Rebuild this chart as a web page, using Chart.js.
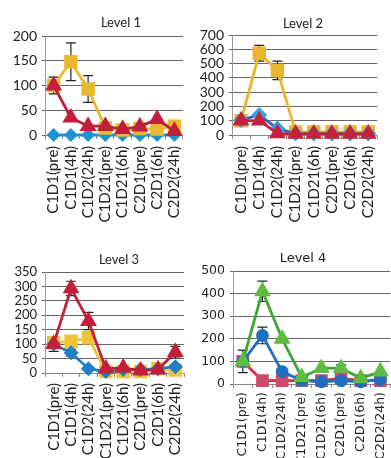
<!DOCTYPE html>
<html lang="en">
<head>
<meta charset="UTF-8" />
<title>Level 1-4</title>
<script src="https://cdn.jsdelivr.net/npm/chart.js"></script>
<style>
  html, body { margin: 0; padding: 0; background: #fff; overflow: hidden; width: 391px; height: 458px; }
  canvas { position: absolute; }
</style>
</head>
<body>
<canvas id="level1" width="197" height="225" style="left:0;top:0"></canvas>
<canvas id="level2" width="201" height="225" style="left:190px;top:0"></canvas>
<canvas id="level3" width="197" height="218" style="left:0;top:240px"></canvas>
<canvas id="level4" width="210" height="218" style="left:190px;top:240px"></canvas>

<script>
// categories
const labels = ['C1D1(pre)', 'C1D1(4h)', 'C1D2(24h)', 'C1D21(pre)', 'C1D21(6h)', 'C2D1(pre)', 'C2D1(6h)', 'C2D2(24h)'];

// Level 1
const l1Red = [100, 35, 18, 18, 12, 17, 32, 8];
const l1RedErr = [17, 0, 0, 0, 0, 0, 0, 0];
const l1Yellow = [100, 148, 93, 14, 10, 13, 12, 18];
const l1YellowErr = [0, 38, 27, 0, 0, 0, 0, 0];
const l1Blue = [0, 0, 0, 0, 0, 0, 0, 0];

// Level 2
const l2Red = [100, 100, 12, 8, 8, 8, 8, 8];
const l2Yellow = [100, 572, 452, 22, 22, 22, 22, 22];
const l2YellowErr = [0, 55, 65, 0, 0, 0, 0, 0];
const l2Blue = [105, 140, 45, 10, 10, 10, 10, 10];
const l2BlueErr = [25, 0, 0, 0, 0, 0, 0, 0];

// Level 3
const l3Red = [100, 293, 180, 15, 18, 8, 12, 72];
const l3RedErr = [25, 25, 30, 0, 0, 0, 0, 20];
const l3Yellow = [105, 110, 122, 5, 5, 5, 15, 10];
const l3Blue = [100, 70, 15, 5, 12, 12, 15, 22];
const l3BlueErr = [0, 12, 0, 0, 0, 0, 0, 0];

// Level 4
const l4Green = [100, 410, 200, 30, 70, 70, 25, 55];
const l4GreenErr = [50, 45, 0, 0, 0, 15, 0, 0];
const l4Blue = [100, 215, 55, 15, 10, 15, 10, 20];
const l4BlueErr = [0, 37, 0, 0, 0, 0, 0, 0];
const l4Red = [100, 15, 15, 15, 15, 25, 15, 15];

// error bars drawn from each dataset's "errors" array
const errorBars = {
  id: 'errorBars',
  beforeDatasetsDraw(chart) {
    const ctx = chart.ctx;
    const y = chart.scales.y;
    ctx.save();
    ctx.strokeStyle = '#222';
    ctx.lineWidth = 1.2;
    chart.data.datasets.forEach((ds, i) => {
      if (!ds.errors) return;
      const meta = chart.getDatasetMeta(i);
      ds.errors.forEach((e, j) => {
        if (!e) return;
        const x = meta.data[j].x;
        const top = y.getPixelForValue(ds.data[j] + e);
        const bot = y.getPixelForValue(ds.data[j] - e);
        ctx.beginPath();
        ctx.moveTo(x, top); ctx.lineTo(x, bot);
        ctx.moveTo(x - 5, top); ctx.lineTo(x + 5, top);
        ctx.moveTo(x - 5, bot); ctx.lineTo(x + 5, bot);
        ctx.stroke();
      });
    });
    ctx.restore();
  }
};

// small title placed where the scan has it
const panelTitle = {
  id: 'panelTitle',
  afterDraw(chart, args, opts) {
    const ctx = chart.ctx;
    ctx.save();
    ctx.font = opts.font;
    ctx.fillStyle = '#222';
    ctx.textAlign = 'center';
    ctx.textBaseline = 'middle';
    ctx.fillText(opts.text, opts.x, opts.y);
    ctx.restore();
  }
};

function series(data, errors, line, fill, style, radius) {
  return {
    data: data,
    errors: errors,
    borderColor: line,
    backgroundColor: fill,
    pointBackgroundColor: fill,
    pointBorderColor: fill,
    pointStyle: style,
    pointRadius: radius,
    borderWidth: 2.8,
    tension: 0,
    clip: false
  };
}

function makePanel(id, title, datasets, yMax, yStep, p) {
  new Chart(document.getElementById(id), {
    type: 'line',
    data: { labels: labels, datasets: datasets },
    plugins: [errorBars, panelTitle],
    options: {
      responsive: false,
      animation: false,
      layout: { padding: { top: p.top, right: p.right, left: 0, bottom: 0 } },
      plugins: {
        legend: { display: false },
        tooltip: { enabled: false },
        panelTitle: { text: title, x: p.tx, y: p.ty, font: p.titleFont }
      },
      scales: {
        x: {
          offset: true,
          afterFit(s) { s.height = p.xh; },
          grid: { offset: true, drawOnChartArea: false, tickLength: 4, color: '#888' },
          border: { color: '#888' },
          ticks: { minRotation: 90, maxRotation: 90, padding: p.xpad, color: '#222', font: p.tickFont, autoSkip: false }
        },
        y: {
          min: 0,
          max: yMax,
          afterFit(s) { s.width = p.yw; },
          grid: { color: '#666', lineWidth: 1, tickLength: 3 },
          border: { color: '#999' },
          ticks: { stepSize: yStep, autoSkip: false, maxTicksLimit: 20, padding: 5, color: '#222', font: p.yFont }
        }
      }
    }
  });
}

const gill = { family: 'Lato', size: 15, lineHeight: 1 };
const verd = { family: 'DejaVu Sans', size: 12.5, lineHeight: 1 };

makePanel('level1', 'Level 1', [
  series(l1Red, l1RedErr, '#c01f3c', '#c01f3c', 'triangle', 7),
  series(l1Yellow, l1YellowErr, '#e8b92e', '#e8b92e', 'rect', 7.5),
  series(l1Blue, null, '#1b93d1', '#1b93d1', 'rectRot', 5)
], 200, 50, { top: 36, right: 4, xh: 90, yw: 45, xpad: 7, tx: 121, ty: 23, titleFont: '13px Lato', tickFont: gill, yFont: { family: 'Lato', size: 14, lineHeight: 1 } });

makePanel('level2', 'Level 2', [
  series(l2Red, null, '#c4213d', '#c4213d', 'triangle', 7),
  series(l2Blue, l2BlueErr, '#2a62b8', '#3aa0e0', 'rectRot', 6),
  series(l2Yellow, l2YellowErr, '#e9b52c', '#e9b52c', 'rect', 7.5)
], 700, 100, { top: 35, right: 12, xh: 90, yw: 42, xpad: 7, tx: 113, ty: 24, titleFont: '13px Lato', tickFont: gill, yFont: { family: 'Lato', size: 14, lineHeight: 1 } });

makePanel('level3', 'Level 3', [
  series(l3Red, l3RedErr, '#c2203a', '#c2203a', 'triangle', 7),
  series(l3Blue, l3BlueErr, '#1f7fc4', '#1f7fc4', 'rectRot', 5.5),
  series(l3Yellow, null, '#f0c43a', '#f0c43a', 'rect', 7.5)
], 350, 50, { top: 32, right: 4, xh: 85, yw: 45, xpad: 6, tx: 119, ty: 20, titleFont: '13px Lato', tickFont: gill, yFont: { family: 'Lato', size: 13, lineHeight: 1 } });

makePanel('level4', 'Level 4', [
  series(l4Green, l4GreenErr, '#3fa535', '#5cbd40', 'triangle', 7),
  series(l4Blue, l4BlueErr, '#1e6fc0', '#1e6fc0', 'circle', 5),
  series(l4Red, null, '#d0304a', '#d04a6a', 'rect', 7)
], 500, 100, { top: 31, right: 7, xh: 74, yw: 43, xpad: 4, tx: 113, ty: 19, titleFont: '13px "DejaVu Sans"', tickFont: verd, yFont: { family: 'DejaVu Sans', size: 12.5, lineHeight: 1 } });
</script>
</body>
</html>
